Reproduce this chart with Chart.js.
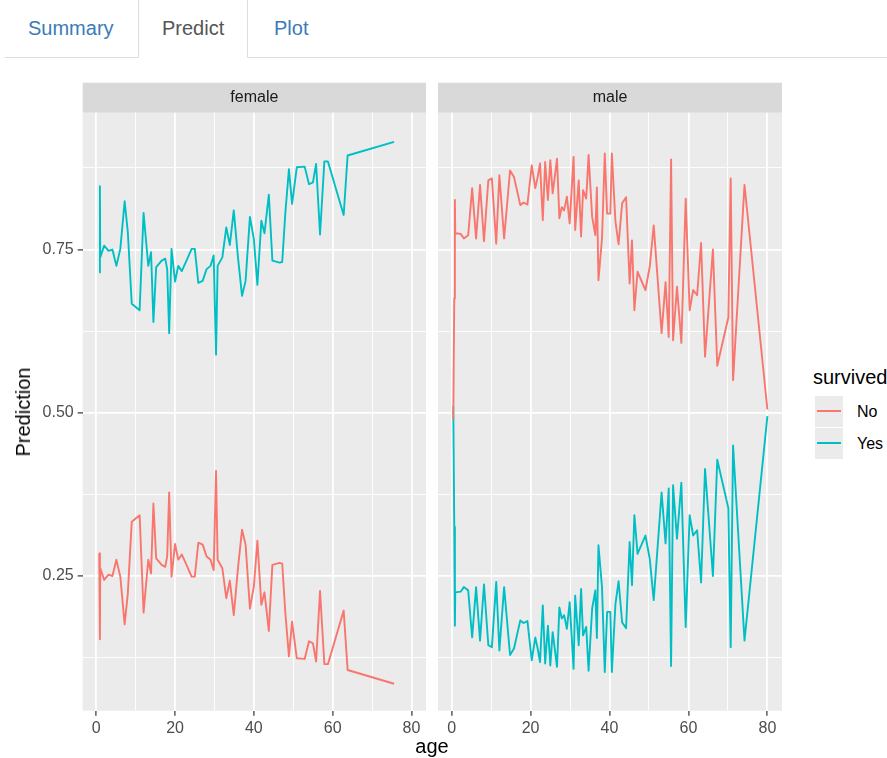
<!DOCTYPE html>
<html>
<head>
<meta charset="utf-8">
<title>Predict</title>
<script src="https://cdn.jsdelivr.net/npm/chart.js@4.4.0/dist/chart.umd.min.js"></script>
<style>
  html, body { margin: 0; padding: 0; background: #fff; overflow: hidden; }
  body { width: 887px; height: 758px; position: relative; font-family: "Liberation Sans", Arial, sans-serif; }
  .nav-line { position: absolute; left: 5px; top: 57px; width: 882px; height: 1px; background: #ddd; }
  .tab { position: absolute; top: 18px; font-size: 20px; line-height: 20px; white-space: nowrap; }
  .tab.link { color: #3a7bb8; }
  .tab.active-text { color: #555; }
  .tab-box { position: absolute; left: 138px; top: -5px; width: 108px; height: 61px;
             border: 1px solid #ddd; border-bottom: 1px solid #fff; background: #fff; border-radius: 4px 4px 0 0; }
  .panel { position: absolute; top: 82px; }
  .ytitle { position: absolute; left: 23px; top: 412px; font-size: 20px; line-height: 20px; color: #000;
            transform: translate(-50%, -50%) rotate(-90deg); white-space: nowrap; }
  .xtitle { position: absolute; left: 432px; top: 736px; font-size: 20px; line-height: 20px; color: #000;
            transform: translateX(-50%); white-space: nowrap; }
  .legend-title { position: absolute; left: 813px; top: 367px; font-size: 20px; line-height: 20px; color: #000; }
  .key { position: absolute; left: 815px; width: 28px; height: 31px; background: #EBEBEB; }
  .key-line { position: absolute; left: 2px; width: 24px; top: 14px; height: 2px; display: block; }
  .key-label { position: absolute; left: 857px; font-size: 16px; line-height: 16px; color: #000; }
</style>
</head>
<body>
<div class="nav-line"></div>
<div class="tab-box"></div>
<div class="tab link" style="left:28px">Summary</div>
<div class="tab active-text" style="left:162px">Predict</div>
<div class="tab link" style="left:274px">Plot</div>

<canvas id="female" class="panel" style="left:0px" width="428" height="676"></canvas>
<canvas id="male" class="panel" style="left:438px" width="346" height="676"></canvas>

<div class="ytitle">Prediction</div>
<div class="xtitle">age</div>

<div class="legend-title">survived</div>
<div class="key" style="top:396px"><div class="key-line" id="keyNo"></div></div>
<div class="key" style="top:428px"><div class="key-line" id="keyYes"></div></div>
<div class="key-label" style="top:404px" id="labNo"></div>
<div class="key-label" style="top:436px" id="labYes"></div>

<script>
// Predicted probability of survival by age, split by sex
const femaleAge = [0.75, 0.92, 1, 2, 3.1, 4.1, 5.1, 6.1, 7.2, 8, 9, 11, 12, 13.2, 13.9, 14.5, 15.2, 16.6, 17.5, 18,
  18.5, 19.1, 20, 20.8, 21.7, 22.9, 24.2, 25, 25.9, 27, 28, 29, 29.8, 30.4, 30.8, 32, 33, 33.9, 34.9, 36,
  37, 37.9, 39, 40, 40.9, 41.9, 42.7, 43.8, 44.7, 46.5, 47.2, 48, 48.9, 49.7, 50.9, 52.9, 54, 55, 55.8, 56.8,
  57.9, 58.8, 62.8, 63.8, 75.6];
const femaleNo = [0.285, 0.153, 0.262, 0.244, 0.252, 0.25, 0.275, 0.249, 0.176, 0.223, 0.333, 0.343, 0.194, 0.275, 0.254, 0.361, 0.277, 0.267, 0.264, 0.28,
  0.378, 0.249, 0.299, 0.275, 0.283, 0.267, 0.249, 0.249, 0.301, 0.298, 0.28, 0.275, 0.259, 0.411, 0.275, 0.262, 0.216, 0.243, 0.19, 0.264,
  0.321, 0.298, 0.2, 0.234, 0.304, 0.206, 0.225, 0.166, 0.267, 0.27, 0.269, 0.193, 0.127, 0.18, 0.124, 0.123, 0.15, 0.147, 0.119, 0.227,
  0.115, 0.115, 0.197, 0.106, 0.085];
const femaleYes = [0.715, 0.847, 0.738, 0.756, 0.748, 0.75, 0.725, 0.751, 0.824, 0.777, 0.667, 0.657, 0.806, 0.725, 0.746, 0.639, 0.723, 0.733, 0.736, 0.72,
  0.622, 0.751, 0.701, 0.725, 0.717, 0.733, 0.751, 0.751, 0.699, 0.702, 0.72, 0.725, 0.741, 0.589, 0.725, 0.738, 0.784, 0.757, 0.81, 0.736,
  0.679, 0.702, 0.8, 0.766, 0.696, 0.794, 0.775, 0.834, 0.733, 0.73, 0.731, 0.807, 0.873, 0.82, 0.876, 0.877, 0.85, 0.853, 0.881, 0.773,
  0.885, 0.885, 0.803, 0.894, 0.915];

const maleAge = [0.42, 0.67, 0.83, 0.92, 2.3, 3.1, 4.2, 5.2, 6.2, 7.2, 8.2, 9.3, 10.2, 11.3, 12.1, 13.3, 14.8, 15.8, 17.4, 18.2,
  19.2, 20.3, 21.2, 21.8, 22.4, 23.1, 23.7, 24.4, 25, 25.6, 26.7, 27.3, 27.9, 28.5, 29.2, 29.9, 30.9, 31.3, 32.2, 32.8,
  33.3, 34.1, 34.7, 35.6, 36.4, 36.8, 37.2, 38.1, 38.8, 39.4, 40.2, 40.6, 41.5, 42.3, 43.2, 44.2, 45.1, 45.7, 46.3, 47.1,
  49.1, 50.2, 51.2, 53.2, 54.2, 55, 55.6, 56.1, 57.1, 58.2, 59.3, 60.3, 61.2, 62.2, 63.2, 64.2, 66.2, 67.3, 70.1, 70.7,
  71.3, 74.2, 80];
const maleNo = [0.49, 0.675, 0.826, 0.775, 0.774, 0.767, 0.772, 0.844, 0.767, 0.849, 0.763, 0.856, 0.859, 0.759, 0.864, 0.767, 0.871, 0.861, 0.818, 0.822,
  0.819, 0.879, 0.844, 0.861, 0.882, 0.795, 0.884, 0.826, 0.887, 0.836, 0.889, 0.798, 0.815, 0.81, 0.831, 0.79, 0.892, 0.78, 0.856, 0.77,
  0.841, 0.828, 0.895, 0.8, 0.772, 0.845, 0.703, 0.767, 0.897, 0.805, 0.805, 0.897, 0.793, 0.758, 0.821, 0.83, 0.698, 0.764, 0.657, 0.716,
  0.688, 0.724, 0.787, 0.622, 0.7, 0.616, 0.888, 0.611, 0.693, 0.607, 0.828, 0.657, 0.688, 0.68, 0.76, 0.586, 0.75, 0.572, 0.646, 0.859,
  0.55, 0.849, 0.505];
const maleYes = [0.51, 0.325, 0.174, 0.225, 0.226, 0.233, 0.228, 0.156, 0.233, 0.151, 0.237, 0.144, 0.141, 0.241, 0.136, 0.233, 0.129, 0.139, 0.182, 0.178,
  0.181, 0.121, 0.156, 0.139, 0.118, 0.205, 0.116, 0.174, 0.113, 0.164, 0.111, 0.202, 0.185, 0.19, 0.169, 0.21, 0.108, 0.22, 0.144, 0.23,
  0.159, 0.172, 0.105, 0.2, 0.228, 0.155, 0.297, 0.233, 0.103, 0.195, 0.195, 0.103, 0.207, 0.242, 0.179, 0.17, 0.302, 0.236, 0.343, 0.284,
  0.312, 0.276, 0.213, 0.378, 0.3, 0.384, 0.112, 0.389, 0.307, 0.393, 0.172, 0.343, 0.312, 0.32, 0.24, 0.414, 0.25, 0.428, 0.354, 0.141,
  0.45, 0.151, 0.495];

const facetLabels = ['female', 'male'];
const survivedLevels = ['No', 'Yes'];
const survivedColors = ['#F8766D', '#00BFC4'];

const xBreaks = [0, 10, 20, 30, 40, 50, 60, 70, 80];
const xMajor = [0, 20, 40, 60, 80];
const xTickLabels = ['0', '20', '40', '60', '80'];
const yBreaks = [0.125, 0.25, 0.375, 0.5, 0.625, 0.75, 0.875];
const yMajor = [0.25, 0.5, 0.75];
const yTickLabels = ['0.25', '0.50', '0.75'];

// panel geometry
const X_MIN = -3.45, X_MAX = 83.7;
const Y_MIN = 0.0437, Y_MAX = 0.9596;
const STRIP_H = 30.7;
const FONT = '"Liberation Sans", Arial, sans-serif';

// legend
document.getElementById('keyNo').style.backgroundColor = survivedColors[0];
document.getElementById('keyYes').style.backgroundColor = survivedColors[1];
document.getElementById('labNo').textContent = survivedLevels[0];
document.getElementById('labYes').textContent = survivedLevels[1];

const isMajorX = v => xMajor.indexOf(v) >= 0;
const isMajorY = v => yMajor.some(m => Math.abs(m - v) < 1e-9);

// grey panel background and facet strip
const facetPlugin = {
  id: 'facet',
  beforeDraw(chart, args, opts) {
    const { ctx, chartArea: a } = chart;
    ctx.save();
    ctx.fillStyle = '#EBEBEB';
    ctx.fillRect(a.left, a.top, a.right - a.left, a.bottom - a.top);
    ctx.fillStyle = '#D9D9D9';
    ctx.fillRect(a.left, a.top - 30, a.right - a.left, 30);
    ctx.fillStyle = '#1A1A1A';
    ctx.font = '16px ' + FONT;
    ctx.textAlign = 'center';
    ctx.textBaseline = 'middle';
    ctx.fillText(opts.label, (a.left + a.right) / 2, a.top - 15);
    ctx.restore();
  }
};

function toPoints(ages, vals) {
  return ages.map((a, i) => ({ x: a, y: vals[i] }));
}

function makePanel(id, label, ages, no, yes, showY, yAxisWidth) {
  const gridWidth = (major) => major ? 1.8 : 0.9;
  return new Chart(document.getElementById(id), {
    type: 'line',
    data: {
      datasets: [
        { label: survivedLevels[0], data: toPoints(ages, no), borderColor: survivedColors[0] },
        { label: survivedLevels[1], data: toPoints(ages, yes), borderColor: survivedColors[1] }
      ]
    },
    options: {
      responsive: false,
      animation: false,
      devicePixelRatio: 1,
      parsing: false,
      elements: {
        line: { borderWidth: 1.9, tension: 0, fill: false, borderCapStyle: 'butt', borderJoinStyle: 'round' },
        point: { radius: 0, hoverRadius: 0 }
      },
      layout: { padding: { top: STRIP_H, right: 2, left: 0, bottom: 0 } },
      plugins: {
        legend: { display: false },
        tooltip: { enabled: false },
        facet: { label: label }
      },
      scales: {
        x: {
          type: 'linear',
          min: X_MIN, max: X_MAX,
          afterBuildTicks: s => { s.ticks = xBreaks.map(v => ({ value: v })); },
          afterFit: s => { s.height = 47.3; },
          border: { display: false },
          grid: {
            color: '#FFFFFF',
            lineWidth: c => gridWidth(isMajorX(c.tick.value)),
            drawTicks: true,
            tickLength: 5,
            tickWidth: 1.2,
            tickColor: c => isMajorX(c.tick.value) ? '#333333' : 'rgba(0,0,0,0)'
          },
          ticks: {
            autoSkip: false, maxRotation: 0, minRotation: 0, padding: 3,
            color: '#4D4D4D', font: { family: FONT, size: 16 },
            callback: v => { const i = xMajor.indexOf(v); return i >= 0 ? xTickLabels[i] : ''; }
          }
        },
        y: {
          type: 'linear',
          min: Y_MIN, max: Y_MAX,
          afterBuildTicks: s => { s.ticks = yBreaks.map(v => ({ value: v })); },
          afterFit: s => { s.width = yAxisWidth; },
          border: { display: false },
          grid: {
            color: '#FFFFFF',
            lineWidth: c => gridWidth(isMajorY(c.tick.value)),
            drawTicks: showY,
            tickLength: 5,
            tickWidth: 1.2,
            tickColor: c => isMajorY(c.tick.value) ? '#333333' : 'rgba(0,0,0,0)'
          },
          ticks: {
            display: showY, autoSkip: false, padding: 4,
            color: '#4D4D4D', font: { family: FONT, size: 16 },
            callback: v => { const i = yMajor.findIndex(m => Math.abs(m - v) < 1e-9); return i >= 0 ? yTickLabels[i] : ''; }
          }
        }
      }
    },
    plugins: [facetPlugin]
  });
}

makePanel('female', facetLabels[0], femaleAge, femaleNo, femaleYes, true, 82.7);
makePanel('male', facetLabels[1], maleAge, maleNo, maleYes, false, 0);
</script>
</body>
</html>
